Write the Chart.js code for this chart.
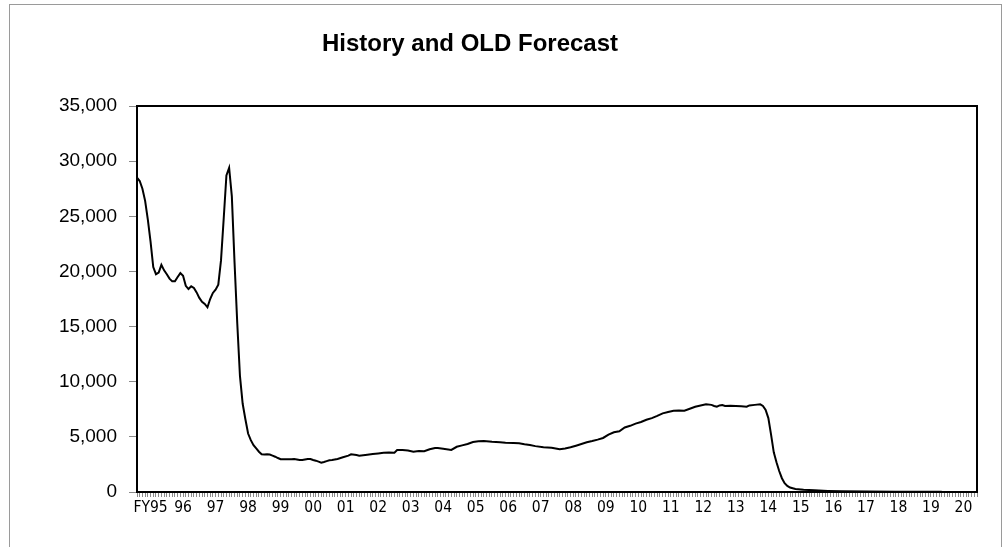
<!DOCTYPE html>
<html>
<head>
<meta charset="utf-8">
<script src="https://cdn.jsdelivr.net/npm/chart.js@4.4.0/dist/chart.umd.min.js"></script>
<style>
  html, body { margin: 0; padding: 0; background: #fff; }
</style>
</head>
<body>
<canvas id="chart" width="1008" height="547"></canvas>
<script>
const chartTitle = 'History and OLD Forecast';

// fiscal year labels, one per 12 months
const yearLabels = ['FY95', '96', '97', '98', '99', '00', '01', '02', '03', '04', '05', '06', '07',
                    '08', '09', '10', '11', '12', '13', '14', '15', '16', '17', '18', '19', '20'];

// month index from the start of FY95, and the value
const months = [
  0, 1, 2, 3, 4, 5, 6, 7, 8, 9, 10, 11, 12, 13, 14, 15, 16, 17, 18, 19, 20, 21, 22, 23, 24, 25, 26, 27, 28, 29,
  30, 31, 32, 33, 34, 35, 36, 37, 38, 39, 40, 41, 42, 43, 44, 45, 46, 47, 48, 49, 50, 51, 52, 53, 54, 55, 56, 57,
  58, 59, 60, 61, 62, 63, 64, 65, 66, 67, 68, 69, 70, 71,
  72, 74, 76, 78, 79, 81, 82, 85, 87, 89, 91, 93, 95, 96, 98, 100, 102, 104, 106, 108, 110, 111, 113, 116, 118,
  120, 122, 124, 126, 128, 131, 134, 136, 139, 141, 143, 145, 147, 150, 153, 156, 158, 160, 162, 164, 166, 168,
  170, 172, 174, 176, 178, 180, 182, 184, 186, 188, 190, 192, 194, 196, 198, 200, 202, 204, 206, 208, 210, 212,
  213, 214, 215, 216, 217, 219, 221, 223, 225, 226, 228, 230, 231, 232, 233, 234, 235, 236, 237, 238, 239, 240,
  241, 243, 246, 250, 255, 260, 270, 280, 297
];
const values = [
  28500, 28200, 27500, 26400, 24700, 22700, 20400, 19750, 19900, 20600, 20100, 19750, 19350, 19100, 19100, 19500,
  19850, 19600, 18700, 18400, 18650, 18500, 18100, 17600, 17250, 17050, 16750, 17500, 18050, 18350,
  18800, 21000, 24800, 28700, 29400, 26800, 20800, 15300, 10500, 8000, 6600, 5300, 4700, 4250, 3950, 3650, 3420,
  3400, 3420, 3400, 3300, 3200, 3080, 2970, 2960, 2960, 2970, 2960,
  2990, 2950, 2900, 2900, 2950, 3000, 2990, 2900, 2840, 2750, 2660, 2720, 2800, 2880,
  2900, 3000, 3145, 3300, 3420, 3350, 3290, 3380, 3445, 3500, 3565, 3580, 3565, 3800, 3800, 3760, 3655, 3717,
  3690, 3880, 3980, 3990, 3920, 3810, 4100,
  4230, 4350, 4530, 4600, 4620, 4560, 4520, 4470, 4440, 4415, 4330, 4260, 4160, 4050, 4016, 3870, 3950, 4060,
  4200, 4350, 4506, 4620,
  4750, 4900, 5200, 5420, 5500, 5850, 6000, 6200, 6350, 6550, 6700, 6900, 7130, 7250, 7370, 7380, 7370, 7550,
  7735, 7850, 7950, 7900,
  7800, 7735, 7850, 7890, 7800, 7820, 7800, 7770, 7735, 7850, 7900, 7950, 7800, 7450, 6700, 5200, 3600, 2700,
  1900, 1250, 800, 550,
  400, 280, 200, 150, 100, 70, 40, 30, 15
];

const yTicks = [0, 5000, 10000, 15000, 20000, 25000, 30000, 35000];
const monthsShown = 310;
const labelOffset = 5;

// white page, grey outer frame, title, and the black plot box
const framePlugin = {
  id: 'frame',
  beforeDraw(chart) {
    const ctx = chart.ctx;
    ctx.save();
    ctx.fillStyle = '#fff';
    ctx.fillRect(0, 0, chart.width, chart.height);
    ctx.strokeStyle = '#9a9a9a';
    ctx.lineWidth = 1;
    ctx.strokeRect(9.5, 4.5, 992, 600);
    ctx.restore();
  },
  afterDraw(chart) {
    const ctx = chart.ctx;
    const a = chart.chartArea;
    ctx.save();
    ctx.strokeStyle = '#000';
    ctx.lineWidth = 2;
    ctx.strokeRect(a.left, a.top, a.right - a.left, a.bottom - a.top);
    ctx.fillStyle = '#000';
    ctx.font = 'bold 24px "Liberation Sans", Arial, sans-serif';
    ctx.textAlign = 'center';
    ctx.textBaseline = 'middle';
    ctx.fillText(chartTitle, 470, 44);
    ctx.restore();
  }
};

new Chart(document.getElementById('chart'), {
  type: 'line',
  data: {
    datasets: [{
      data: months.map((m, i) => ({ x: m, y: values[i] })),
      borderColor: '#000',
      borderWidth: 2,
      pointRadius: 0,
      tension: 0,
      fill: false
    }]
  },
  options: {
    responsive: false,
    animation: false,
    layout: { padding: { left: 0, top: 106, right: 31, bottom: 0 } },
    plugins: { legend: { display: false }, tooltip: { enabled: false } },
    scales: {
      x: {
        type: 'linear',
        min: 0,
        max: monthsShown,
        afterFit: (s) => { s.height = 55; },
        ticks: {
          stepSize: 1,
          autoSkip: false,
          maxRotation: 0,
          padding: 2,
          color: '#000',
          font: { family: '"DejaVu Sans Condensed", "Liberation Sans Narrow", "Liberation Sans", sans-serif', size: 15.5 },
          callback: (v) => {
            const k = v - labelOffset;
            return (k >= 0 && k % 12 === 0) ? yearLabels[k / 12] : '';
          }
        },
        grid: { drawOnChartArea: false, drawTicks: true, tickLength: 5, color: '#8a8a8a' },
        border: { display: true, color: '#000', width: 2 }
      },
      y: {
        min: 0,
        max: 35000,
        afterFit: (s) => { s.width = 137; },
        afterBuildTicks: (s) => { s.ticks = yTicks.map(v => ({ value: v })); },
        ticks: {
          padding: 12,
          color: '#000',
          font: { family: '"Liberation Sans", Arial, sans-serif', size: 19 },
          callback: (v) => v.toLocaleString('en-US')
        },
        grid: { drawOnChartArea: false, drawTicks: true, tickLength: 8, color: '#8a8a8a' },
        border: { display: true, color: '#000', width: 2 }
      }
    }
  },
  plugins: [framePlugin]
});
</script>
</body>
</html>
